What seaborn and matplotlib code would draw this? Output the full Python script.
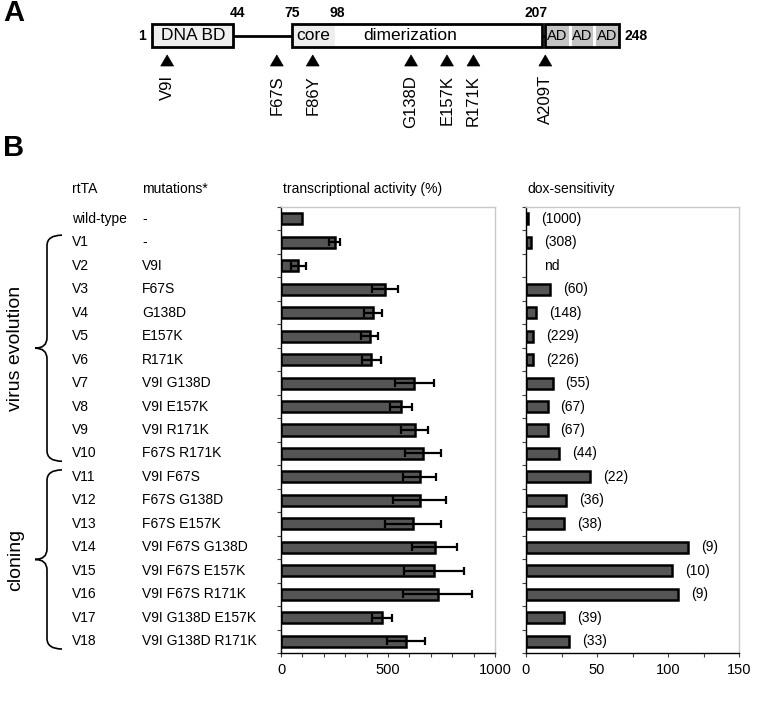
import numpy as np
import pandas as pd
import matplotlib
matplotlib.use("Agg")
import matplotlib.pyplot as plt
import seaborn as sns
from matplotlib.patches import Rectangle, Polygon, PathPatch
from matplotlib.path import Path
from matplotlib.transforms import blended_transform_factory as btf
from matplotlib import font_manager

# ---------------- data ----------------
variants = ["wild-type", "V1", "V2", "V3", "V4", "V5", "V6", "V7", "V8", "V9", "V10",
            "V11", "V12", "V13", "V14", "V15", "V16", "V17", "V18"]
mutations = ["-", "-", "V9I", "F67S", "G138D", "E157K", "R171K", "V9I G138D", "V9I E157K",
             "V9I R171K", "F67S R171K", "V9I F67S", "F67S G138D", "F67S E157K",
             "V9I F67S G138D", "V9I F67S E157K", "V9I F67S R171K", "V9I G138D E157K",
             "V9I G138D R171K"]
activity = [100, 250, 80, 485, 430, 415, 421, 623, 561, 625, 664, 648, 648, 617, 718, 714, 732, 473, 585]
activity_sd = [0, 25, 35, 60, 40, 40, 44, 90, 52, 62, 85, 78, 125, 131, 105, 140, 162, 46, 88]
dox = [1.2, 3.5, np.nan, 17, 7, 4.7, 4.7, 18.7, 15.2, 15.2, 23.2, 45, 28.3, 26.5, 114, 103, 107, 26.5, 30.4]
dox_labels = ["(1000)", "(308)", "nd", "(60)", "(148)", "(229)", "(226)", "(55)", "(67)", "(67)",
              "(44)", "(22)", "(36)", "(38)", "(9)", "(10)", "(9)", "(39)", "(33)"]
groups = [("virus evolution", "V1", "V10"), ("cloning", "V11", "V18")]

# protein schematic (residue numbers)
domain_bounds = [1, 44, 75, 98, 207, 209, 248]
site_mutations = ["V9I", "F67S", "F86Y", "G138D", "E157K", "R171K", "A209T"]

df = pd.DataFrame({"variant": variants, "mutations": mutations, "activity": activity,
                   "sd": activity_sd, "dox": dox, "dox_label": dox_labels})

# ---------------- style ----------------
sns.set_style("white")
plt.rcParams["font.family"] = ["Liberation Sans", "DejaVu Sans"]
plt.rcParams["text.color"] = "black"
plt.rcParams["xtick.color"] = "black"
plt.rcParams["ytick.color"] = "black"
plt.rcParams["axes.labelcolor"] = "black"
names = {f.name for f in font_manager.fontManager.ttflist}
narrow = "Liberation Sans Narrow" if "Liberation Sans Narrow" in names else "Liberation Sans"

W, H = 769, 726
fig = plt.figure(figsize=(W / 100, H / 100), dpi=100)
fs = 10
bar_color = "#555555"

# ---------------- panel A (schematic) ----------------
ax0 = fig.add_axes([0, 0, 1, 1])
ax0.set_xlim(-79.4, 327.3)   # residue units
ax0.set_ylim(H, 0)           # pixel units vertically
ax0.axis("off")
ax0.patch.set_alpha(0)

r1, r44, r75, r98, r207, r209, r248 = domain_bounds
yt, hb = 24, 23
ym = yt + hb / 2
ax0.plot([r44, r75], [ym, ym], color="black", lw=2, zorder=1)
ax0.plot([r207, r209], [ym, ym], color="black", lw=2, zorder=1)
ax0.add_patch(Rectangle((r1, yt), r44 - r1, hb, facecolor="#efefef", edgecolor="black", lw=2, zorder=2))
ax0.add_patch(Rectangle((r75, yt), r207 - r75, hb, facecolor="white", edgecolor="none", zorder=2))
ax0.add_patch(Rectangle((r75, yt), r98 - r75, hb, facecolor="#eeeeee", edgecolor="none", zorder=2))
ax0.add_patch(Rectangle((r75, yt), r207 - r75, hb, facecolor="none", edgecolor="black", lw=2, zorder=3))
ax0.add_patch(Rectangle((r209, yt), r248 - r209, hb, facecolor="#c4c4c4", edgecolor="none", zorder=2))
seg = (r248 - r209) / 3
for k in (1, 2):
    ax0.plot([r209 + k * seg] * 2, [yt + 1, yt + hb - 1], color="white", lw=2.2, zorder=2.5)
ax0.add_patch(Rectangle((r209, yt), r248 - r209, hb, facecolor="none", edgecolor="black", lw=2, zorder=3))
for k in range(3):
    ax0.text(r209 + (k + 0.5) * seg, ym + 0.5, "AD", ha="center", va="center", fontsize=10.5, zorder=4)
ax0.text(r1 + 4.5, ym + 0.5, "DNA BD", ha="left", va="center", fontsize=12.5, zorder=4)
ax0.text(r75 + 2.5, ym + 0.5, "core", ha="left", va="center", fontsize=12.5, zorder=4)
ax0.text(r75 + 37.5, ym + 0.5, "dimerization", ha="left", va="center", fontsize=12.5, zorder=4)

numkw = dict(fontsize=10, fontweight="bold", family=narrow)
ax0.text(r1 - 3, ym, "1", ha="right", va="center", **numkw)
ax0.text(r44 + 2, 13, "44", ha="center", va="center", **numkw)
ax0.text(r75, 13, "75", ha="center", va="center", **numkw)
ax0.text(r98 + 1, 13, "98", ha="center", va="center", **numkw)
ax0.text(r207 - 3, 13, "207", ha="center", va="center", **numkw)
ax0.text(r248 + 3, ym, "248", ha="left", va="center", **numkw)

for m in site_mutations:
    pos = int(m[1:-1])
    ax0.add_patch(Polygon([[pos - 3.4, 66], [pos + 3.4, 66], [pos, 55]], closed=True,
                          facecolor="black", edgecolor="black", lw=0.5))
    ax0.text(pos, 75, m, rotation=90, ha="center", va="top", fontsize=12)

fig.text(3 / W, 1 - 13 / H, "A", fontsize=21, fontweight="bold", ha="left", va="center")
fig.text(3 / W, 1 - 148 / H, "B", fontsize=21, fontweight="bold", ha="left", va="center")

# ---------------- panel B bars ----------------
bottom, height = 1 - 653 / H, (653 - 207) / H
ax1 = fig.add_axes([281 / W, bottom, (495 - 281) / W, height])
ax2 = fig.add_axes([526 / W, bottom, (739 - 526) / W, height])

sns.barplot(data=df, x="activity", y="variant", orient="h", ax=ax1, color=bar_color,
            saturation=1, edgecolor="black", linewidth=1.8, width=0.47, errorbar=None)
ypos = np.arange(len(df))
mask = df["sd"].to_numpy() > 0
ax1.errorbar(df["activity"].to_numpy()[mask], ypos[mask], xerr=df["sd"].to_numpy()[mask],
             fmt="none", ecolor="black", elinewidth=1.6, capsize=3.2, capthick=1.6, zorder=5)

sns.barplot(data=df, x="dox", y="variant", orient="h", ax=ax2, color=bar_color,
            saturation=1, edgecolor="black", linewidth=1.8, width=0.47, errorbar=None)
for i, (v, lab) in enumerate(zip(df["dox"], df["dox_label"])):
    x = 0 if np.isnan(v) else v
    off = 13 if not np.isnan(v) else 18
    ax2.annotate(lab, xy=(x, i), xytext=(off * 0.72, 0), textcoords="offset points",
                 ha="left", va="center", fontsize=fs)

for ax, xmax, majors, minors in [(ax1, 1000, [0, 500, 1000], np.arange(0, 1001, 100)),
                                 (ax2, 150, [0, 50, 100, 150], [25, 75, 125])]:
    ax.set_xlim(0, xmax)
    ax.set_ylim(len(df) - 0.5, -0.5)
    ax.set_xticks(majors)
    ax.set_xticklabels([str(t) for t in majors], fontsize=fs + 0.5)
    ax.set_xticks(minors, minor=True)
    ax.set_yticks(np.arange(len(df) + 1) - 0.5)
    ax.set_yticklabels([])
    ax.set_xlabel("")
    ax.set_ylabel("")
    ax.tick_params(axis="both", which="both", direction="out", length=3, width=0.8,
                   color="#444444", bottom=True, left=True, pad=4)
    for s in ("left", "bottom"):
        ax.spines[s].set_color("black")
        ax.spines[s].set_linewidth(1)
    for s in ("top", "right"):
        ax.spines[s].set_color("#c8c8c8")
        ax.spines[s].set_linewidth(1)
    ax.grid(False)

# ---------------- table text ----------------
tr = btf(fig.transFigure, ax1.transData)
for i, (v, m) in enumerate(zip(variants, mutations)):
    fig.text(72 / W, i, v, transform=tr, ha="left", va="center", fontsize=fs)
    fig.text(142 / W, i, m, transform=tr, ha="left", va="center", fontsize=fs)

hy = 1 - 189 / H
fig.text(72 / W, hy, "rtTA", ha="left", va="center", fontsize=fs)
fig.text(142 / W, hy, "mutations*", ha="left", va="center", fontsize=fs)
fig.text(283 / W, hy, "transcriptional activity (%)", ha="left", va="center", fontsize=fs)
fig.text(527 / W, hy, "dox-sensitivity", ha="left", va="center", fontsize=fs)

# braces
xe, xl, xt = 62 / W, 47 / W, 35 / W
for name, first, last in groups:
    top = variants.index(first) - 0.3
    bot = variants.index(last) + 0.33
    mid = (top + bot) / 2
    verts = [(xe, top), (xl, top), (xl, top + 0.45),
             (xl, mid - 0.45), (xl, mid), (xt, mid),
             (xl, mid), (xl, mid + 0.45),
             (xl, bot - 0.45), (xl, bot), (xe, bot)]
    codes = [Path.MOVETO, Path.CURVE3, Path.CURVE3,
             Path.LINETO, Path.CURVE3, Path.CURVE3,
             Path.CURVE3, Path.CURVE3,
             Path.LINETO, Path.CURVE3, Path.CURVE3]
    fig.patches.append(PathPatch(Path(verts, codes), transform=tr, facecolor="none",
                                 edgecolor="black", lw=1.2, figure=fig))
    fig.text(16 / W, mid, name, transform=tr, rotation=90, ha="center", va="center", fontsize=14)

fig.savefig("out.png", dpi=100)
